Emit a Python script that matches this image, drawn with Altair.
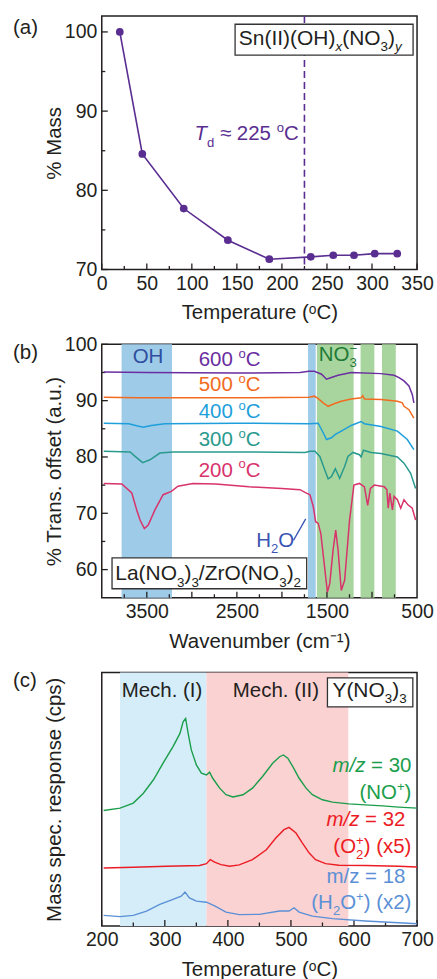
import altair as alt
import pandas as pd

FONT = "Liberation Sans, Arial, sans-serif"
INK = "#231f20"
FS = 20.5   # annotation / title size
FT = 19.5   # tick label size
W, H = 316, 254

# ---------------- (a) TGA data ----------------
tga_temp = [20, 45, 91, 140, 186, 232, 257, 280, 303, 328]
tga_mass = [100.0, 84.6, 77.7, 73.7, 71.3, 71.6, 71.8, 71.8, 72.0, 72.0]
td_temp = 225
a_x_major = list(range(0, 351, 50))
a_x_minor = list(range(25, 351, 50))
a_y_major = [70, 80, 90, 100]
a_y_minor = [75, 85, 95]

# ---------------- (b) FTIR data ----------------
ir_labels = ["600 °C", "500 °C", "400 °C", "300 °C", "200 °C"]
ir_colors = ["#6a2ea0", "#f26b21", "#1e9fdb", "#2a9a8e", "#d8336b"]

ir600_wn = [3978, 3500, 2500, 1800, 1700, 1640, 1560, 1505, 1451, 1377, 1231, 901, 755, 700, 645, 590, 553, 535]
ir600_tr = [95.1, 95.0, 94.9, 95.0, 95.2, 95.2, 94.7, 93.8, 94.1, 94.5, 95.0, 94.8, 94.5, 94.1, 93.5, 92.6, 91.1, 89.6]

ir500_wn = [3978, 3600, 2500, 1700, 1640, 1600, 1542, 1487, 1414, 1341, 1231, 1121, 1103, 1084, 901, 718, 663, 645, 590, 535]
ir500_tr = [90.6, 90.5, 90.5, 90.6, 90.8, 90.4, 89.6, 89.0, 89.5, 89.9, 90.3, 90.5, 90.9, 90.3, 90.2, 89.9, 89.6, 89.0, 88.4, 86.9]

ir400_wn = [3978, 3700, 3600, 3540, 3450, 3300, 2500, 1700, 1597, 1542, 1505, 1451, 1407, 1341, 1231, 1121, 1084, 901, 718, 608, 535]
ir400_tr = [86.0, 85.9, 85.5, 85.3, 85.6, 85.9, 86.0, 85.9, 86.0, 84.3, 83.1, 83.4, 84.0, 84.6, 85.6, 86.3, 85.9, 85.4, 84.6, 83.1, 81.3]

ir300_wn = [3978, 3685, 3630, 3546, 3465, 3355, 3209, 2549, 1744, 1689, 1634, 1579, 1524, 1487, 1451, 1407, 1359, 1304, 1267, 1212, 1139, 1121, 1095, 1011, 901, 718, 645, 571, 516]
ir300_tr = [81.0, 80.9, 80.1, 79.0, 79.5, 80.7, 80.9, 80.9, 80.8, 81.0, 81.0, 80.1, 77.7, 76.1, 76.5, 77.9, 76.2, 78.3, 80.1, 80.8, 80.4, 80.0, 81.2, 80.8, 80.6, 80.0, 78.9, 77.1, 74.4]

ir200_wn = [3978, 3777, 3667, 3612, 3575, 3527, 3484, 3410, 3319, 3227, 3154, 2989, 2733, 2366, 2000, 1799, 1744, 1689, 1652, 1626, 1597, 1568, 1531, 1495, 1469, 1432, 1403, 1377, 1341, 1304, 1249, 1201, 1139, 1084, 1048, 1018, 974, 864, 835, 820, 802, 773, 755, 718, 681, 645, 601, 553, 516]
ir200_tr = [75.3, 75.2, 73.6, 70.6, 68.8, 67.3, 67.9, 70.6, 73.3, 73.9, 74.8, 75.3, 75.2, 74.7, 74.4, 74.2, 73.7, 73.3, 71.2, 68.5, 68.2, 66.4, 61.1, 56.0, 57.5, 63.5, 67.0, 63.5, 56.3, 58.1, 68.8, 75.0, 75.3, 74.7, 71.4, 74.4, 75.0, 74.7, 74.2, 70.9, 73.6, 70.6, 73.0, 72.4, 70.9, 72.4, 71.5, 70.9, 68.8]

band_blue_start = [3780, 1710]
band_blue_end = [3220, 1625]
band_green_start = [1612, 1127, 889]
band_green_end = [1204, 974, 736]
b_x_labels = [3500, 2500, 1500, 500]
b_x_major = list(range(1000, 4000, 500))
b_x_minor = list(range(750, 4000, 500))
b_y_major = [60, 70, 80, 90, 100]
b_y_minor = [65, 75, 85, 95]

# ---------------- (c) mass-spec data ----------------
ms_labels = ["m/z = 30", "m/z = 32", "m/z = 18"]
ms_colors = ["#1b9e4b", "#ec1c24", "#5b90d6"]

ms30_t = [203, 229, 250, 266, 282, 297, 313, 324, 329, 333, 337, 342, 350, 358, 366, 371, 376, 387, 397, 408, 424, 439, 455, 471, 482, 488, 495, 503, 513, 524, 534, 550, 566, 592, 618, 645, 671, 700]
ms30_v = [45.6, 46.5, 48.5, 52.4, 57.7, 64.2, 70.8, 76.0, 80.6, 81.9, 76.0, 69.5, 63.6, 60.3, 59.6, 60.7, 58.3, 54.4, 51.8, 50.9, 51.8, 54.4, 59.0, 64.2, 66.8, 67.5, 66.2, 62.9, 58.3, 54.4, 51.8, 49.8, 48.9, 48.2, 47.8, 47.4, 46.9, 46.5]

ms32_t = [203, 250, 303, 355, 366, 372, 379, 389, 403, 418, 439, 461, 476, 489, 497, 508, 518, 529, 539, 555, 576, 618, 671, 700]
ms32_v = [22.9, 23.2, 23.6, 23.9, 24.6, 26.2, 25.2, 24.2, 23.6, 24.1, 26.2, 30.1, 34.7, 38.0, 38.9, 36.7, 32.8, 28.8, 26.2, 24.6, 24.0, 23.9, 23.6, 23.3]

ms18_t = [203, 229, 250, 271, 292, 313, 326, 332, 339, 350, 366, 379, 397, 418, 450, 482, 497, 505, 513, 534, 566, 618, 671, 700]
ms18_v = [4.2, 3.7, 4.2, 5.9, 8.5, 10.5, 11.8, 13.4, 11.1, 9.8, 9.4, 7.9, 5.5, 4.5, 4.6, 5.9, 5.9, 7.2, 5.5, 3.9, 2.9, 2.0, 1.3, 0.9]

mech_start = [229, 366]
mech_end = [366, 591]
mech_colors = ["#d4edf8", "#fbd2d2"]
c_x_major = list(range(200, 701, 100))
c_x_minor = list(range(250, 701, 100))

# ---------------- helpers ----------------
ONE = alt.InlineData(values=[{"k": 0}])

CW = {' ': .278, '(': .333, ')': .333, '/': .278, '=': .584, '.': .278, '+': .584,
      '−': .584, '≈': .549, '-': .333,
      'A': .667, 'C': .722, 'H': .722, 'I': .278, 'L': .556, 'M': .833, 'N': .722,
      'O': .778, 'S': .667, 'T': .611, 'Y': .667, 'Z': .611,
      'a': .556, 'c': .5, 'd': .556, 'e': .556, 'h': .556, 'm': .833, 'n': .556,
      'o': .556, 'r': .333, 's': .5, 'x': .5, 'y': .5, 'z': .5}


def tw(s, size):
    return sum(CW.get(ch, .556) for ch in s) * size


def rich(segs, x, y, xs, ys, align="left", color=INK, size=FS):
    small = size * 0.64
    items = []
    for seg in segs:
        t, k = seg[0], seg[1]
        adv = seg[2] if len(seg) > 2 else True
        fs = small if k in ("sub", "sup", "isub") else size
        items.append((t, k, fs, tw(t, fs) if adv else 0.0))
    total = sum(i[3] for i in items)
    off = {"left": 0.0, "center": -total / 2, "right": -total}[align]
    layers = []
    for t, k, fs, w in items:
        lead = len(t) - len(t.lstrip(" "))
        dxv = off + tw(" " * lead, fs)
        if k in ("sub", "isub"):
            dyv = size * 0.30
        elif k == "sup":
            dyv = -size * 0.40
        else:
            dyv = 0
        layers.append(
            alt.Chart(ONE).mark_text(
                text=t.lstrip(" "), dx=dxv, dy=dyv, align="left", baseline="alphabetic",
                font=FONT, fontSize=fs, fontStyle="italic" if k in ("i", "isub") else "normal",
                color=color,
            ).encode(x=alt.XDatum(x, type="quantitative", scale=xs),
                     y=alt.YDatum(y, type="quantitative", scale=ys))
        )
        off += w
    return layers


def box(x1, x2, y1, y2, xs, ys):
    return alt.Chart(ONE).mark_rect(fill="white", stroke="#333333", strokeWidth=1.3).encode(
        x=alt.XDatum(x1, type="quantitative", scale=xs), x2=alt.X2Datum(x2),
        y=alt.YDatum(y1, type="quantitative", scale=ys), y2=alt.Y2Datum(y2))


def panel_label(txt, ypix):
    return alt.Chart(ONE).mark_text(text=txt, align="left", baseline="middle", font=FONT,
                                    fontSize=FS, color=INK).encode(
        x=alt.value(-89), y=alt.value(ypix))


def xticks(vals, y0, y1, xs, ys, ax):
    return alt.Chart(pd.DataFrame({"v": vals})).mark_rule(color=INK, strokeWidth=1.3).encode(
        x=alt.X("v:Q", scale=xs, axis=ax),
        y=alt.YDatum(y0, type="quantitative", scale=ys), y2=alt.Y2Datum(y1))


def yticks(vals, x0, x1, xs, ys, ax):
    return alt.Chart(pd.DataFrame({"v": vals})).mark_rule(color=INK, strokeWidth=1.3).encode(
        y=alt.Y("v:Q", scale=ys, axis=ax),
        x=alt.XDatum(x0, type="quantitative", scale=xs), x2=alt.X2Datum(x1))


def axis(values, title, **kw):
    return alt.Axis(values=values, format="d", ticks=False, title=title, **kw)


# ---------------- panel (a) ----------------
PURPLE = "#5a2d91"
xs_a = alt.Scale(domain=[0, 350], nice=False, zero=False)
ys_a = alt.Scale(domain=[70, 102], nice=False, zero=False)
ax_a_x = axis(a_x_major, "Temperature (ᵒC)", titlePadding=10)
ax_a_y = axis(a_y_major, "% Mass", titlePadding=0)

a_df = pd.DataFrame({"T": tga_temp, "M": tga_mass})
a_base = alt.Chart(a_df).encode(x=alt.X("T:Q", scale=xs_a, axis=ax_a_x),
                                y=alt.Y("M:Q", scale=ys_a, axis=ax_a_y))
a_layers = [
    xticks(a_x_major, 70, 70.76, xs_a, ys_a, ax_a_x), xticks(a_x_minor, 70, 70.44, xs_a, ys_a, ax_a_x),
    yticks(a_y_major, 0, 6.65, xs_a, ys_a, ax_a_y), yticks(a_y_minor, 0, 3.9, xs_a, ys_a, ax_a_y),
    a_base.mark_line(color=PURPLE, strokeWidth=1.6),
    a_base.mark_circle(color=PURPLE, size=60, opacity=1),
    alt.Chart(ONE).mark_rule(color=PURPLE, strokeDash=[7, 4], strokeWidth=1.6).encode(
        x=alt.XDatum(td_temp, type="quantitative", scale=xs_a)),
    box(148, 345.6, 97.06, 100.97, xs_a, ys_a),
]
a_layers += rich([("Sn(II)(OH)", "n"), ("x", "isub"), ("(NO", "n"), ("3", "sub"), (")", "n"), ("y", "isub")],
                 152.2, 98.4, xs_a, ys_a, size=21)
a_layers += rich([("T", "i"), ("d", "sub"), (" ≈ 225 ", "n"), ("o", "sup"), ("C", "n")],
                 218.6, 86.3, xs_a, ys_a, align="right", color=PURPLE)
a_layers.append(panel_label("(a)", 12))
panel_a = alt.layer(*a_layers).properties(width=W, height=H)

# ---------------- panel (b) ----------------
xs_b = alt.Scale(domain=[500, 4000], reverse=True, nice=False, zero=False)
ys_b = alt.Scale(domain=[55, 100], nice=False, zero=False)
ax_b_x = axis(b_x_labels, "Wavenumber (cm⁻¹)", titlePadding=10)
ax_b_y = axis(b_y_major, "% Trans. offset (a.u.)", titlePadding=0)

bands_b = pd.DataFrame({
    "s": band_blue_start + band_green_start,
    "e": band_blue_end + band_green_end,
    "c": ["blue"] * len(band_blue_start) + ["green"] * len(band_green_start),
})
b_bands = alt.Chart(bands_b).mark_rect().encode(
    x=alt.X("s:Q", scale=xs_b, axis=ax_b_x), x2="e:Q",
    y=alt.value(0), y2=alt.value(H),
    color=alt.Color("c:N", scale=alt.Scale(domain=["blue", "green"], range=["#9ecbe8", "#a8d59e"]), legend=None))

ir_rows = []
for lab, wn, tr in zip(ir_labels, [ir600_wn, ir500_wn, ir400_wn, ir300_wn, ir200_wn],
                       [ir600_tr, ir500_tr, ir400_tr, ir300_tr, ir200_tr]):
    for w_, t_ in zip(wn, tr):
        ir_rows.append({"s": lab, "wn": w_, "tr": t_})
ir_df = pd.DataFrame(ir_rows)
b_lines = alt.Chart(ir_df).mark_line(strokeWidth=1.5, clip=True).encode(
    x=alt.X("wn:Q", scale=xs_b, axis=ax_b_x),
    y=alt.Y("tr:Q", scale=ys_b, axis=ax_b_y),
    stroke=alt.Stroke("s:N", scale=alt.Scale(domain=ir_labels, range=ir_colors), legend=None),
    detail="s:N")

b_layers = [b_bands,
            xticks(b_x_major, 55, 56.06, xs_b, ys_b, ax_b_x), xticks(b_x_minor, 55, 55.62, xs_b, ys_b, ax_b_x),
            yticks(b_y_major, 4000, 3933, xs_b, ys_b, ax_b_y), yticks(b_y_minor, 4000, 3961, xs_b, ys_b, ax_b_y),
            b_lines]
ir_label_base = [96.1, 91.7, 86.9, 82.0, 76.5]
for lab, col, yb in zip(ir_labels, ir_colors, ir_label_base):
    num = lab.split(" ")[0]
    b_layers += rich([(num + " ", "n"), ("o", "sup"), ("C", "n")], 2580, yb, xs_b, ys_b,
                     align="center", color=col)
b_layers += rich([("OH", "n")], 3487, 96.7, xs_b, ys_b, align="center", color="#2f4ea0")
b_layers += rich([("NO", "n"), ("3", "sub", False), ("−", "sup")], 1590, 97.0, xs_b, ys_b,
                 color="#1f7a37")
b_layers += rich([("H", "n"), ("2", "sub"), ("O", "n")], 2286, 64.05, xs_b, ys_b, color="#3a54b4")
b_layers.append(alt.Chart(ONE).mark_rule(color="#3a54b4", strokeWidth=1.3).encode(
    x=alt.XDatum(1872, type="quantitative", scale=xs_b), x2=alt.X2Datum(1736),
    y=alt.YDatum(65.2, type="quantitative", scale=ys_b), y2=alt.Y2Datum(69.0)))
b_layers.append(box(3886, 1725, 56.6, 62.1, xs_b, ys_b))
b_layers += rich([("La(NO", "n"), ("3", "sub"), (")", "n"), ("3", "sub"), ("/ZrO(NO", "n"),
                  ("3", "sub"), (")", "n"), ("2", "sub")], 3850, 58.1, xs_b, ys_b, size=21)
b_layers.append(panel_label("(b)", 8.5))
panel_b = alt.layer(*b_layers).properties(width=W, height=H)

# ---------------- panel (c) ----------------
xs_c = alt.Scale(domain=[200, 700], nice=False, zero=False)
ys_c = alt.Scale(domain=[0, 100], nice=False, zero=False)
ax_c_x = axis(c_x_major, "Temperature (ᵒC)", titlePadding=10)
ax_c_y = alt.Axis(title="Mass spec. response (cps)", ticks=False, labels=False, titlePadding=37)

mech_df = pd.DataFrame({"s": mech_start, "e": mech_end, "m": ["I", "II"]})
c_bands = alt.Chart(mech_df).mark_rect().encode(
    x=alt.X("s:Q", scale=xs_c, axis=ax_c_x), x2="e:Q",
    y=alt.value(0), y2=alt.value(H),
    color=alt.Color("m:N", scale=alt.Scale(domain=["I", "II"], range=mech_colors), legend=None))

ms_rows = []
for lab, tt, vv in zip(ms_labels, [ms30_t, ms32_t, ms18_t], [ms30_v, ms32_v, ms18_v]):
    for t_, v_ in zip(tt, vv):
        ms_rows.append({"s": lab, "T": t_, "v": v_})
ms_df = pd.DataFrame(ms_rows)
c_lines = alt.Chart(ms_df).mark_line(strokeWidth=1.4, clip=True).encode(
    x=alt.X("T:Q", scale=xs_c, axis=ax_c_x),
    y=alt.Y("v:Q", scale=ys_c, axis=ax_c_y),
    stroke=alt.Stroke("s:N", scale=alt.Scale(domain=ms_labels, range=ms_colors), legend=None),
    detail="s:N")

c_layers = [c_bands,
            xticks(c_x_major, 0, 2.36, xs_c, ys_c, ax_c_x), xticks(c_x_minor, 0, 1.38, xs_c, ys_c, ax_c_x),
            c_lines]
c_layers += rich([("Mech. (I)", "n")], 231.6, 90.4, xs_c, ys_c)
c_layers += rich([("Mech. (II)", "n")], 407.8, 90.4, xs_c, ys_c)
c_layers.append(box(557.9, 693.3, 86.5, 97.9, xs_c, ys_c))
c_layers += rich([("Y(NO", "n"), ("3", "sub"), (")", "n"), ("3", "sub")], 565.8, 90.4, xs_c, ys_c, size=21)
c_layers += rich([("m/z", "i"), (" = 30", "n")], 691.1, 60.6, xs_c, ys_c, align="right", color=ms_colors[0])
c_layers += rich([("(NO", "n"), ("+", "sup"), (")", "n")], 691.1, 50.1, xs_c, ys_c, align="right", color=ms_colors[0])
c_layers += rich([("m/z", "i"), (" = 32", "n")], 681.6, 39.3, xs_c, ys_c, align="right", color=ms_colors[1])
c_layers += rich([("(O", "n"), ("2", "sub", False), ("+", "sup"), (") (x5)", "n")], 691.1, 28.8, xs_c, ys_c,
                 align="right", color=ms_colors[1])
c_layers += rich([("m/z = 18", "n")], 681.6, 17.0, xs_c, ys_c, align="right", color=ms_colors[2])
c_layers += rich([("(H", "n"), ("2", "sub"), ("O", "n"), ("+", "sup"), (") (x2)", "n")], 691.1, 6.6, xs_c, ys_c,
                 align="right", color=ms_colors[2])
c_layers.append(panel_label("(c)", 8))
panel_c = alt.layer(*c_layers).properties(width=W, height=H)

# ---------------- assemble ----------------
chart = alt.vconcat(panel_a, panel_b, panel_c, spacing=75, bounds="flush").resolve_scale(
    color="independent", stroke="independent"
).properties(
    padding={"left": 12, "top": 13, "right": 2, "bottom": 2}
).configure_view(
    stroke=INK, strokeWidth=1.5
).configure_axis(
    labelFont=FONT, labelFontSize=FT, labelColor=INK, labelPadding=5,
    labelFlush=False, labelOverlap=False,
    titleFont=FONT, titleFontSize=FS, titleFontWeight="normal", titleColor=INK,
    grid=False, domain=False,
)

chart.save("out.html", embed_options={"renderer": "svg", "actions": False})
